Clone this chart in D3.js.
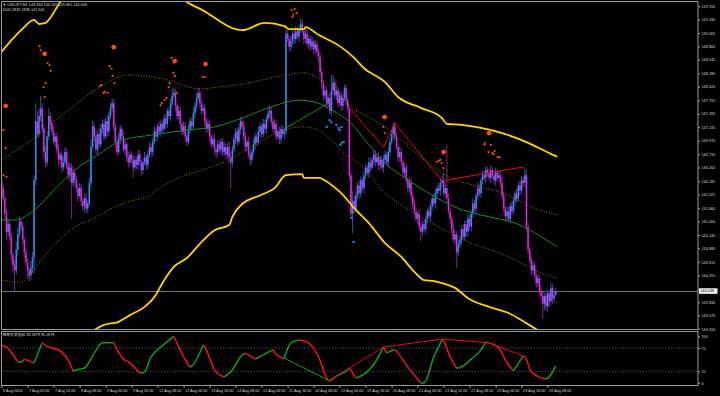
<!DOCTYPE html>
<html>
<head>
<meta charset="utf-8">
<script src="https://cdn.jsdelivr.net/npm/d3@7"></script>
<style>
  html, body { margin: 0; padding: 0; background: #000; }
  svg { display: block; }
  .axis text { fill: #d0d0d0; font-family: "Liberation Sans", Arial, sans-serif; font-size: 3.8px; }
  .axis line { stroke: #9a9a9a; }
  .axis path { display: none; }
  .label { fill: #d8d8d8; font-family: "Liberation Sans", Arial, sans-serif; font-size: 3.8px; }
</style>
</head>
<body>
<svg id="chart"></svg>
<script>
// hourly closes, bar 0 = 6 Aug 08:00
const firstOpen = 146.20;
const closes = [
  146.05,145.85,145.55,145.20,145.35,145.10,144.75,144.55,144.45,144.85,145.15,145.40,145.30,145.05,144.80,144.60,144.45,144.35,144.50,144.70,
  146.20,147.35,147.10,147.45,147.60,147.20,146.75,146.55,147.05,147.45,147.30,147.15,146.95,147.05,146.80,146.60,146.70,146.45,146.55,146.75,
  146.50,146.30,146.45,146.15,146.35,146.20,146.05,145.90,146.05,145.80,145.70,145.85,145.65,145.75,146.15,146.85,147.25,147.05,146.80,147.10,
  146.90,147.20,147.30,147.05,147.35,147.15,147.45,147.60,147.70,147.25,146.95,146.75,147.00,147.20,147.05,146.80,146.90,146.65,146.55,146.70,
  146.60,146.45,146.60,146.50,146.70,146.55,146.40,146.55,146.65,146.50,146.70,146.85,146.75,146.95,147.15,147.05,147.25,147.15,147.30,147.20,
  147.40,147.30,147.55,147.45,147.70,147.85,147.90,147.65,147.45,147.55,147.30,147.15,147.25,147.05,146.95,147.20,147.35,147.25,147.50,147.65,
  147.80,147.90,147.70,147.55,147.60,147.35,147.20,147.30,147.05,146.90,147.00,146.80,146.75,146.90,146.80,146.95,146.75,146.85,146.70,146.85,
  146.65,146.55,146.80,147.00,147.15,146.95,147.20,147.35,147.25,147.05,146.85,146.95,146.70,146.60,146.75,146.90,147.05,146.95,147.15,147.25,
  147.10,147.30,147.20,147.40,147.50,147.55,147.35,147.20,147.30,147.05,147.15,147.00,147.20,147.10,147.15,149.05,148.95,148.80,148.90,149.05,
  148.95,149.10,149.00,149.15,149.25,149.10,148.95,149.05,148.85,148.95,148.80,148.90,148.75,148.85,148.70,148.60,148.30,148.10,147.85,147.95,
  147.70,147.80,147.55,147.95,148.10,147.85,147.95,147.70,147.85,147.65,147.80,148.00,147.75,147.60,146.30,145.55,145.80,145.65,145.90,146.10,
  145.95,146.20,146.05,146.30,146.45,146.35,146.55,146.45,146.60,146.70,146.55,146.65,146.50,146.60,146.45,146.60,146.70,146.55,146.75,146.95,
  147.10,147.25,147.05,146.85,146.65,146.75,146.55,146.35,146.45,146.20,146.05,146.15,145.90,145.75,145.60,145.45,145.55,145.30,145.20,145.35,
  145.25,145.45,145.60,145.50,145.70,145.85,145.75,145.95,146.05,146.00,146.15,146.20,145.95,146.05,145.85,145.60,145.45,145.25,145.05,145.15,
  144.80,144.95,145.05,145.25,145.10,145.35,145.20,145.45,145.30,145.55,145.75,145.65,145.90,146.05,145.95,146.20,146.30,146.25,146.40,146.35,
  146.25,146.40,146.30,146.20,146.35,146.25,146.30,146.15,145.90,145.65,145.50,145.60,145.45,145.70,145.60,145.80,145.95,145.85,146.10,146.00,
  146.20,146.15,146.30,145.30,144.85,144.65,144.45,144.55,144.35,144.20,144.30,144.05,143.95,143.80,143.95,143.75,144.00,143.85,144.10,143.90,
  143.966,144.048
];
// upper / lower shadow lengths in pips (0.01)
const upWick = [
  15,8,6,10,12,5,8,6,10,15,12,10,6,8,5,10,8,6,12,10,
  10,35,20,15,25,10,8,12,10,15,8,10,12,6,8,10,5,8,12,10,
  8,6,10,8,12,6,8,5,10,8,6,10,8,6,10,15,12,8,10,6,
  12,10,8,10,6,12,8,10,10,8,6,10,12,8,6,10,8,5,10,8,
  6,10,8,6,10,8,5,8,10,6,8,10,6,8,10,8,6,10,8,6,
  10,8,6,8,10,12,10,8,6,10,8,6,10,8,6,10,8,6,10,8,
  10,10,8,6,10,8,6,10,8,6,8,10,6,8,10,6,8,10,6,8,
  10,6,8,10,6,8,10,8,6,10,8,6,10,8,6,10,8,6,10,8,
  6,10,8,6,10,10,8,6,10,8,6,10,8,6,8,17,8,6,10,8,
  6,10,8,6,10,8,6,10,8,6,8,10,6,8,6,8,10,8,6,10,
  8,6,10,30,15,8,10,6,8,10,8,6,8,6,5,6,20,10,8,6,
  10,8,6,10,8,6,10,8,6,10,8,6,10,8,6,10,8,6,10,8,
  6,7,10,8,6,10,8,6,10,8,6,10,8,6,10,8,6,10,8,6,
  10,8,6,10,8,6,10,8,6,10,8,10,15,8,85,10,8,6,10,8,
  6,10,8,6,10,8,6,10,8,6,10,8,6,10,8,6,10,8,10,6,
  8,10,6,8,10,6,8,10,12,8,6,10,8,6,10,8,6,10,8,10,
  8,6,15,10,8,6,10,8,6,10,8,6,10,8,6,10,8,6,10,8,
  6,5.7
];
const dnWick = [
  10,8,12,15,8,10,12,15,40,8,10,6,8,10,12,8,15,12,8,10,
  30,10,8,6,10,8,12,10,8,6,10,8,6,10,8,12,8,10,6,8,
  10,8,12,70,8,10,8,12,6,10,8,12,10,8,6,8,6,10,8,10,
  8,6,10,8,6,10,8,6,8,10,12,8,6,10,8,6,10,8,12,6,
  8,20,6,8,10,6,12,8,6,10,8,6,10,8,6,10,8,6,10,8,
  6,10,8,6,10,8,6,10,8,6,10,8,6,10,8,6,10,8,6,10,
  8,6,10,8,6,10,8,6,10,8,6,10,12,8,6,10,8,6,10,8,
  12,50,8,6,10,8,6,10,8,6,10,8,6,12,8,6,10,8,6,10,
  8,6,10,8,6,10,8,6,10,8,6,10,8,6,10,8,6,10,8,6,
  10,8,6,10,8,6,10,8,6,10,8,6,10,8,6,10,8,12,10,8,
  10,8,6,10,8,6,10,8,6,10,8,6,10,8,10,10,38,10,8,6,
  10,8,6,10,8,6,10,8,6,10,8,6,10,8,6,10,8,6,10,8,
  6,10,8,6,10,8,6,10,8,6,10,8,6,10,8,6,10,8,18,8,
  6,10,8,6,10,8,6,10,8,6,10,8,6,10,8,6,10,8,6,10,
  30,8,6,10,8,6,10,8,6,10,8,6,10,8,6,10,8,6,10,8,
  6,10,8,6,10,8,6,10,8,6,10,8,6,10,8,6,10,8,6,10,
  8,6,10,10,8,6,10,8,6,10,8,6,10,30,12,10,8,12,8,10,
  8,0.1
];

// band lines [bar, price]
const outerUpper = [[0,148.70],[12,149.12],[20,149.32],[23,149.24],[27,149.26],[29,149.32],[37,149.71],[50,150.05],[75,150.30],[100,150.10],[112,149.71],[123,149.52],[148,149.12],[162,149.26],[174,149.20],[177,149.14],[186,149.14],[187,149.18],[195,149.03],[209,148.79],[217,148.58],[223,148.38],[236,148.11],[244,147.82],[258,147.61],[271,147.41],[274,147.30],[283,147.28],[295,147.22],[308,147.12],[324,146.93],[337,146.73],[342,146.66]];
const outerLower = [[0,142.60],[30,142.85],[50,143.10],[57,143.29],[63,143.39],[72,143.45],[79,143.58],[88,143.74],[94,143.93],[100,144.26],[106,144.52],[114,144.69],[123,145.00],[131,145.23],[140,145.33],[142,145.49],[148,145.74],[160,145.92],[168,146.05],[175,146.30],[185,146.32],[186,146.25],[195,146.25],[203,146.11],[209,145.95],[217,145.66],[226,145.37],[236,144.98],[246,144.71],[254,144.42],[260,144.26],[266,144.24],[271,144.20],[279,144.11],[287,143.91],[300,143.74],[312,143.62],[320,143.48],[330,143.29],[342,143.13]];
const innerUpper = [[0,146.60],[18,146.98],[35,147.41],[49,147.76],[62,148.05],[78,148.25],[92,148.21],[103,148.15],[111,148.05],[123,147.98],[135,148.02],[148,148.07],[160,148.15],[172,148.23],[186,148.29],[197,148.15],[207,147.90],[215,147.63],[226,147.43],[236,147.24],[246,146.98],[258,146.65],[275,146.27],[295,146.07],[312,145.91],[326,145.68],[342,145.53]];
const middleLine = [[0,145.43],[8,145.43],[20,145.62],[34,146.07],[45,146.40],[62,146.75],[72,146.96],[92,147.08],[115,147.18],[131,147.24],[148,147.41],[166,147.63],[183,147.76],[195,147.70],[203,147.57],[215,147.31],[225,146.93],[234,146.60],[250,146.21],[263,145.95],[279,145.68],[300,145.49],[316,145.37],[328,145.18],[342,144.90]];
const innerLower = [[0,144.26],[12,144.22],[18,144.40],[31,144.90],[45,145.29],[57,145.47],[68,145.66],[82,145.82],[90,145.88],[98,146.07],[111,146.27],[123,146.40],[140,146.60],[148,146.75],[160,146.98],[174,147.18],[185,147.24],[195,147.18],[203,146.98],[212,146.69],[217,146.60],[226,146.34],[234,146.01],[244,145.76],[254,145.56],[265,145.37],[275,145.19],[289,144.98],[306,144.79],[320,144.59],[332,144.40],[342,144.30]];

// signal dots [bar, price]
const bigDots = [[2.5,147.65],[26.5,148.66],[69,148.79],[106.5,148.52],[125.5,148.46],[235.7,147.43],[272,146.75],[300,147.12]];
const smallDots = [[23.4,148.81],[24,148.73],[28.3,148.48],[29.5,148.44],[30.2,148.33],[27,148.09],[25.8,148.01],[26.5,147.82],[1.2,147.18],[2.5,146.83],[1.2,146.30],[3,146.27],
  [66.5,148.42],[67.7,148.37],[68.3,148.23],[69.5,148.09],[61.5,148.05],[60.3,148.03],[63.4,147.92],[65.2,147.90],[62.8,147.90],
  [104.6,148.58],[105.8,148.29],[106.5,148.23],[103.4,148.09],[102.8,148.01],[107.7,147.90],[101.5,147.80],[100.3,147.76],[98.5,147.70],[97.8,147.66],
  [123.7,148.21],[125,148.21],[178.5,149.51],[180.3,149.53],[181.5,149.45],[179.7,149.42],[179,149.38],[235,147.24],[235.7,147.12],
  [267.7,146.56],[269,146.58],[270,146.60],[270.8,146.54],[272,146.44],
  [297.2,146.93],[297.2,146.89],[301,146.89],[299.7,146.75],[302,146.73],[303.4,146.77],[302.8,146.71],[305.2,146.65],[306.5,146.65]];
const blueDots = [[201.8,147.37],[203,147.33],[200,147.24],[206,147.28],[207.4,147.22],[208,147.18],[209.2,147.24],[209.2,146.93],[210.5,146.95],[208.6,146.89],[215.4,145.47],[216.6,145.00]];

// trend lines on price
const priceTrendGreen = [[175,147.22],[201,147.70]];
const priceTrendRed = [[214,147.61],[235,146.85],[242,147.31],[271,146.19],[321,146.46]];

// oscillator
const oscBars = [0,3,10,12,14,20,25,26,37,41,44,46,51,57,62,68,69,75,78,85,88,92,98,106,112,116,117,124,125,131,137,142,148,150,156,157,167,168,171,174,175,178,183,186,188,195,201,202,207,210,214,218,220,230,235,237,238,242,243,250,258,260,266,271,272,276,280,281,289,295,298,300,306,311,315,321,322,326,334,335,341];
const oscValues = [81,77,45,45,51,43,86,83,66,49,26,28,32,64,86,86,86,51,45,21,24,56,77,100,56,34,36,81,77,28,13,28,60,64,51,53,71,66,56,53,64,86,92,90,88,56,6,4,17,21,32,11,13,45,77,64,66,71,68,34,0,0,56,92,90,56,32,32,51,71,88,86,75,43,26,58,56,24,9,9,36];
const oscTrendGreen = [[174,53],[201,6]];
const oscTrendRed = [[201,4],[235,77],[271,94],[300,86],[321,58]];

// 144.095 sits under the last-price tag, so it is not listed
const priceTicks = [149.590,149.330,149.065,148.805,148.545,148.280,148.020,147.755,147.495,147.235,146.970,146.710,146.450,146.185,145.925,145.660,145.400,145.140,144.880,144.615,144.355,143.830,143.570,143.310];
const oscTicks = [100,75,25,0];
const oscLevels = [75,25];
const timeTickBars = [0,16,32,48,64,80,96,112,128,144,160,176,192,208,224,240,256,272,288,304,320,336];
const timeTickText = ['6 Aug 2024','7 Aug 00:00','7 Aug 16:00','8 Aug 08:00','9 Aug 00:00','9 Aug 16:00','12 Aug 08:00','13 Aug 00:00','13 Aug 16:00','14 Aug 08:00','15 Aug 00:00','15 Aug 16:00','16 Aug 08:00','19 Aug 00:00','19 Aug 16:00','20 Aug 08:00','21 Aug 00:00','21 Aug 16:00','22 Aug 08:00','23 Aug 00:00','23 Aug 16:00','26 Aug 08:00'];
const lastPrice = 144.048;

const W = 720, H = 396;
const plotRight = 698; // right edge of both panels
const mainTop = 1.5, mainBottom = 329.5;
const oscTop = 331.5, oscBottom = 385.5;

const svg = d3.select('#chart').attr('width', W).attr('height', H);
svg.append('rect').attr('width', W).attr('height', H).attr('fill', '#000');

const x = d3.scaleLinear().domain([0, 341]).range([1.6, 1.6 + 341 * 1.625]);
const y = d3.scaleLinear().domain([143.31, 149.59]).range([329, 6]);
const yi = d3.scaleLinear().domain([0, 100]).range([383, 336.3]);

const defs = svg.append('defs');
defs.append('clipPath').attr('id', 'clipMain').append('rect')
  .attr('x', 1.5).attr('y', mainTop).attr('width', plotRight - 1.5).attr('height', mainBottom - mainTop);
defs.append('clipPath').attr('id', 'clipOsc').append('rect')
  .attr('x', 1.5).attr('y', oscTop).attr('width', plotRight - 1.5).attr('height', oscBottom - oscTop);

const main = svg.append('g').attr('clip-path', 'url(#clipMain)');
const osc = svg.append('g').attr('clip-path', 'url(#clipOsc)');

// current price line
main.append('line')
  .attr('x1', 1.5).attr('x2', plotRight)
  .attr('y1', Math.round(y(lastPrice)) + 0.5).attr('y2', Math.round(y(lastPrice)) + 0.5)
  .attr('stroke', '#6b7480').attr('stroke-width', 1);

// candles
const bars = closes.map((c, i) => {
  const o = i === 0 ? firstOpen : closes[i - 1];
  return { i, o, c, h: Math.max(o, c) + upWick[i] / 100, l: Math.min(o, c) - dnWick[i] / 100 };
});

main.append('g').selectAll('line')
  .data(bars).enter().append('line')
  .attr('x1', (d) => x(d.i)).attr('x2', (d) => x(d.i))
  .attr('y1', (d) => y(d.h)).attr('y2', (d) => y(d.l))
  .attr('stroke', (d) => (d.c >= d.o ? '#24508f' : '#74207a'))
  .attr('stroke-width', 1.1);

main.append('g').selectAll('rect')
  .data(bars).enter().append('rect')
  .attr('x', (d) => x(d.i) - 0.75)
  .attr('width', 1.5)
  .attr('y', (d) => y(Math.max(d.o, d.c)))
  .attr('height', (d) => Math.max(0.8, Math.abs(y(d.o) - y(d.c))))
  .attr('fill', (d) => (d.c >= d.o ? '#2c92f0' : '#ec1eec'));

// bands
const pline = d3.line().x((d) => x(d[0])).y((d) => y(d[1])).curve(d3.curveMonotoneX);
[innerUpper, innerLower].forEach((band) => {
  main.append('path').attr('d', pline(band))
    .attr('fill', 'none').attr('stroke', '#8c7a16').attr('stroke-width', 1)
    .attr('stroke-dasharray', '1,1.6');
});
main.append('path').attr('d', pline(middleLine))
  .attr('fill', 'none').attr('stroke', '#1f8a24').attr('stroke-width', 1);
[outerUpper, outerLower].forEach((band) => {
  main.append('path').attr('d', pline(band))
    .attr('fill', 'none').attr('stroke', '#ffd400').attr('stroke-width', 1.8);
});

// trend lines
const straight = d3.line().x((d) => x(d[0])).y((d) => y(d[1]));
main.append('path').attr('d', straight(priceTrendGreen))
  .attr('fill', 'none').attr('stroke', '#1f8a24').attr('stroke-width', 1);
main.append('path').attr('d', straight(priceTrendRed))
  .attr('fill', 'none').attr('stroke', '#e01010').attr('stroke-width', 1);

// signal dots
main.append('g').selectAll('circle')
  .data(smallDots).enter().append('circle')
  .attr('cx', (d) => x(d[0])).attr('cy', (d) => y(d[1])).attr('r', 1.1)
  .attr('fill', '#ff4a12');
main.append('g').selectAll('circle')
  .data(bigDots).enter().append('circle')
  .attr('cx', (d) => x(d[0])).attr('cy', (d) => y(d[1])).attr('r', 2.4)
  .attr('fill', '#ff4a12');
main.append('g').selectAll('rect')
  .data(blueDots).enter().append('rect')
  .attr('x', (d) => x(d[0]) - 1).attr('y', (d) => y(d[1]) - 1)
  .attr('width', 2).attr('height', 2)
  .attr('fill', '#2c92f0');

// oscillator levels
oscLevels.forEach((lv) => {
  osc.append('line')
    .attr('x1', 1.5).attr('x2', plotRight)
    .attr('y1', yi(lv)).attr('y2', yi(lv))
    .attr('stroke', '#707070').attr('stroke-width', 0.8).attr('stroke-dasharray', '1.2,1.6');
});

// oscillator coloured by direction
const oscPts = oscBars.map((b, i) => [b, oscValues[i]]);
const runs = [];
for (let i = 0; i < oscPts.length - 1; i++) {
  const up = oscPts[i + 1][1] >= oscPts[i][1];
  const last = runs[runs.length - 1];
  if (last && last.up === up) last.pts.push(oscPts[i + 1]);
  else runs.push({ up, pts: [oscPts[i], oscPts[i + 1]] });
}
const oline = d3.line().x((d) => x(d[0])).y((d) => yi(d[1])).curve(d3.curveMonotoneX);
osc.selectAll('path.run')
  .data(runs).enter().append('path')
  .attr('class', 'run')
  .attr('d', (d) => oline(d.pts))
  .attr('fill', 'none')
  .attr('stroke', (d) => (d.up ? '#189a18' : '#f01414'))
  .attr('stroke-width', 1.5);

const oStraight = d3.line().x((d) => x(d[0])).y((d) => yi(d[1]));
osc.append('path').attr('d', oStraight(oscTrendGreen))
  .attr('fill', 'none').attr('stroke', '#189a18').attr('stroke-width', 1);
osc.append('path').attr('d', oStraight(oscTrendRed))
  .attr('fill', 'none').attr('stroke', '#e01010').attr('stroke-width', 1);

// frames
svg.append('rect').attr('x', 1.5).attr('y', mainTop)
  .attr('width', plotRight - 1.5).attr('height', mainBottom - mainTop)
  .attr('fill', 'none').attr('stroke', '#9a9a9a').attr('stroke-width', 1);
svg.append('rect').attr('x', 1.5).attr('y', oscTop)
  .attr('width', plotRight - 1.5).attr('height', oscBottom - oscTop)
  .attr('fill', 'none').attr('stroke', '#9a9a9a').attr('stroke-width', 1);

// axes
svg.append('g').attr('class', 'axis')
  .attr('transform', 'translate(' + plotRight + ',0)')
  .call(d3.axisRight(y).tickValues(priceTicks).tickSize(2).tickPadding(1.5).tickFormat(d3.format('.3f')));
svg.append('g').attr('class', 'axis')
  .attr('transform', 'translate(' + plotRight + ',0)')
  .call(d3.axisRight(yi).tickValues(oscTicks).tickSize(2).tickPadding(1.5));
const xAxis = svg.append('g').attr('class', 'axis')
  .attr('transform', 'translate(0,' + oscBottom + ')')
  .call(d3.axisBottom(x).tickValues(timeTickBars).tickSize(2.5).tickPadding(1)
    .tickFormat((d, i) => timeTickText[i]));
xAxis.selectAll('text').attr('text-anchor', 'start').attr('dx', 1);

// last price tag
svg.append('rect').attr('x', 699).attr('y', y(lastPrice) - 2.8)
  .attr('width', 18.5).attr('height', 5.6).attr('fill', '#f2f2f2');
svg.append('text').attr('class', 'label')
  .attr('x', 700.2).attr('y', y(lastPrice) + 1.35)
  .style('fill', '#000').text(lastPrice.toFixed(3));

// headers
svg.append('text').attr('class', 'label').attr('x', 2.5).attr('y', 6)
  .text('\u25BC USDJPY,H1  143.966 144.105 143.965 144.048');
svg.append('text').attr('class', 'label').attr('x', 2.5).attr('y', 11)
  .text('1001 2839 1838 147.641');
svg.append('text').attr('class', 'label').attr('x', 2.5).attr('y', 336)
  .style('font-family', '"Noto Sans CJK SC", sans-serif')
  .text('神奇买卖指标 38.1979 38.1979');
</script>
</body>
</html>
